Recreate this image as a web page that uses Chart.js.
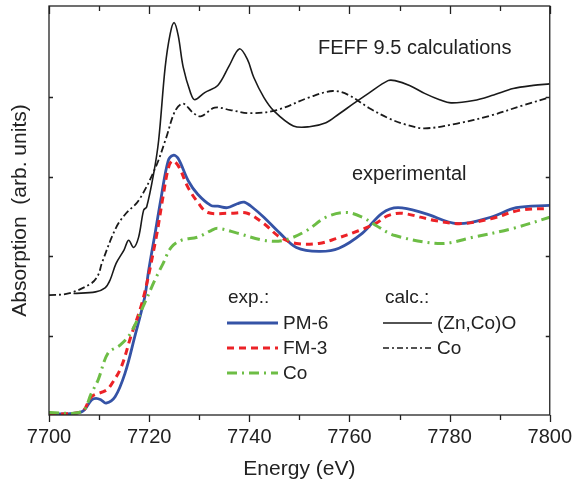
<!DOCTYPE html>
<html>
<head>
<meta charset="utf-8">
<script src="https://cdn.jsdelivr.net/npm/chart.js@4/dist/chart.umd.min.js"></script>
<style>
  html, body { margin: 0; padding: 0; background: #fff; }
  #wrap { width: 582px; height: 489px; }
</style>
</head>
<body>
<div id="wrap"><canvas id="xanes"></canvas></div>
<script>
// energies (eV) and absorption (arb. units, offset)
const calcZnCoE = [7704.9, 7709.3, 7711.2, 7712.2, 7713.4, 7715.0, 7715.9, 7716.9, 7717.9, 7718.9, 7719.5, 7720.9, 7721.9, 7723.2, 7724.2, 7725.0, 7725.8, 7726.8, 7728.3, 7729.1, 7731.1, 7733.7, 7736.0, 7738.0, 7739.6, 7740.9, 7742.9, 7744.9, 7748.8, 7752.0, 7755.3, 7757.9, 7760.8, 7763.8, 7767.7, 7769.1, 7772.0, 7775.0, 7778.0, 7780.3, 7784.8, 7788.8, 7792.7, 7796.7, 7800];
const calcZnCoY = [1.53, 1.55, 1.60, 1.70, 1.91, 2.08, 2.20, 2.11, 2.24, 2.58, 2.62, 3.04, 3.46, 4.38, 4.80, 4.94, 4.78, 4.38, 4.05, 3.97, 4.06, 4.15, 4.40, 4.61, 4.48, 4.25, 4.00, 3.83, 3.64, 3.63, 3.68, 3.79, 3.92, 4.05, 4.21, 4.21, 4.15, 4.05, 3.97, 3.93, 3.96, 4.03, 4.11, 4.15, 4.17];

const calcCoE = [7700.0, 7703.9, 7708.5, 7709.8, 7710.6, 7713.4, 7715.4, 7717.9, 7721.3, 7723.4, 7725.2, 7726.8, 7728.7, 7730.3, 7733.1, 7736.2, 7740.2, 7745.5, 7752.0, 7756.7, 7759.8, 7763.8, 7767.7, 7771.1, 7775.0, 7781.5, 7788.2, 7794.7, 7800];
const calcCoY = [1.51, 1.53, 1.66, 1.76, 1.92, 2.36, 2.54, 2.70, 3.12, 3.49, 3.83, 3.92, 3.81, 3.76, 3.87, 3.84, 3.80, 3.84, 4.00, 4.08, 4.03, 3.87, 3.74, 3.66, 3.61, 3.67, 3.77, 3.90, 4.00];

const pm6E = [7700, 7706.5, 7708.5, 7709.4, 7710.4, 7711.4, 7713.2, 7715.2, 7717.1, 7719.1, 7719.9, 7721.3, 7722.4, 7723.8, 7724.8, 7725.8, 7727.8, 7729.7, 7732.3, 7733.7, 7735.6, 7737.6, 7739.0, 7740.9, 7742.9, 7746.1, 7749.4, 7753.9, 7757.9, 7762.6, 7766.5, 7769.7, 7775.0, 7781.5, 7788.2, 7793.3, 7800];
const pm6Y = [0.01, 0.04, 0.19, 0.21, 0.19, 0.15, 0.23, 0.53, 0.98, 1.48, 1.82, 2.33, 2.74, 3.20, 3.27, 3.23, 2.95, 2.78, 2.64, 2.63, 2.61, 2.66, 2.68, 2.60, 2.49, 2.29, 2.11, 2.06, 2.10, 2.29, 2.54, 2.61, 2.54, 2.41, 2.49, 2.61, 2.64];

const fm3E = [7700, 7706.5, 7708.5, 7711.4, 7712.4, 7714.4, 7716.3, 7718.7, 7721.3, 7722.8, 7723.8, 7724.6, 7725.8, 7727.8, 7729.7, 7731.7, 7736.2, 7739.6, 7742.9, 7746.1, 7749.4, 7753.9, 7757.3, 7761.8, 7765.2, 7767.7, 7770.5, 7777.0, 7782.3, 7788.2, 7794.1, 7800];
const fm3Y = [0.01, 0.04, 0.23, 0.31, 0.38, 0.60, 0.98, 1.44, 2.20, 2.76, 3.10, 3.20, 3.14, 2.86, 2.68, 2.55, 2.54, 2.54, 2.41, 2.24, 2.16, 2.16, 2.22, 2.32, 2.41, 2.51, 2.54, 2.45, 2.41, 2.47, 2.58, 2.60];

const coExpE = [7700, 7706.5, 7708.5, 7709.8, 7711.8, 7714.2, 7716.3, 7719.1, 7721.3, 7722.8, 7724.4, 7726.4, 7729.7, 7732.3, 7733.7, 7737.6, 7742.9, 7746.9, 7751.4, 7755.3, 7759.3, 7762.6, 7765.2, 7769.1, 7778.3, 7784.8, 7792.7, 7800];
const coExpY = [0.03, 0.04, 0.28, 0.44, 0.78, 0.88, 1.03, 1.41, 1.72, 1.91, 2.11, 2.20, 2.24, 2.32, 2.35, 2.29, 2.20, 2.20, 2.32, 2.49, 2.55, 2.49, 2.39, 2.26, 2.16, 2.24, 2.35, 2.49];

const xTicks = [7700, 7720, 7740, 7760, 7780, 7800];

const FONT = "'Liberation Sans', Arial, Helvetica, sans-serif";
const BLACK = "#1a1a1a", BLUE = "#3553a6", RED = "#ec2227", GREEN = "#6dbd45";

const pts = (xs, ys) => xs.map((x, i) => ({ x: x, y: ys[i] }));

// frame, inward/outward ticks, annotations and the legend block
const framePlugin = {
  id: "frame",
  afterDraw(chart) {
    const { ctx, chartArea: a, scales: { x, y } } = chart;
    ctx.save();
    ctx.strokeStyle = "#222";
    ctx.lineWidth = 1.3;
    ctx.strokeRect(a.left, a.top, a.right - a.left, a.bottom - a.top);

    for (let e = 7700; e <= 7800; e += 10) {
      const px = Math.round(x.getPixelForValue(e)) + 0.5;
      const major = e % 20 === 0;
      ctx.beginPath();
      ctx.moveTo(px, a.bottom);
      ctx.lineTo(px, a.bottom + (major ? 7 : 5));
      ctx.moveTo(px, a.top);
      ctx.lineTo(px, a.top + (major ? 8 : 5));
      ctx.stroke();
    }
    for (let v = 1; v <= 4; v++) {
      const py = Math.round(y.getPixelForValue(v)) + 0.5;
      ctx.beginPath();
      ctx.moveTo(a.left, py);
      ctx.lineTo(a.left + 4, py);
      ctx.moveTo(a.right, py);
      ctx.lineTo(a.right - 4, py);
      ctx.stroke();
    }

    ctx.fillStyle = "#222";
    ctx.textBaseline = "middle";
    ctx.textAlign = "left";
    ctx.font = "20px " + FONT;
    ctx.fillText("FEFF 9.5 calculations", 318, 48);
    ctx.fillText("experimental", 352, 174);

    ctx.font = "19px " + FONT;
    ctx.fillText("exp.:", 228, 298);
    ctx.fillText("calc.:", 385, 298);

    const rows = [
      { x0: 227, x1: 278, y: 323, color: BLUE, w: 3, dash: [], label: "PM-6" },
      { x0: 227, x1: 278, y: 348, color: RED, w: 3, dash: [7, 5], label: "FM-3" },
      { x0: 227, x1: 278, y: 373, color: GREEN, w: 3, dash: [10, 5, 2, 5], label: "Co" },
      { x0: 383, x1: 432, y: 323, color: BLACK, w: 1.6, dash: [], label: "(Zn,Co)O" },
      { x0: 383, x1: 432, y: 348, color: BLACK, w: 1.6, dash: [6, 3, 2, 3], label: "Co" },
    ];
    rows.forEach(r => {
      ctx.beginPath();
      ctx.strokeStyle = r.color;
      ctx.lineWidth = r.w;
      ctx.setLineDash(r.dash);
      ctx.moveTo(r.x0, r.y);
      ctx.lineTo(r.x1, r.y);
      ctx.stroke();
      ctx.setLineDash([]);
      ctx.fillText(r.label, r.x1 + 5, r.y + 1);
    });
    ctx.restore();
  },
};

const line = (label, data, color, width, dash) => ({
  label: label,
  data: data,
  borderColor: color,
  borderWidth: width,
  borderDash: dash,
  pointRadius: 0,
  fill: false,
  tension: 0.35,
});

new Chart(document.getElementById("xanes"), {
  type: "line",
  plugins: [framePlugin],
  data: {
    datasets: [
      line("(Zn,Co)O calc", pts(calcZnCoE, calcZnCoY), BLACK, 1.6, []),
      line("Co calc", pts(calcCoE, calcCoY), BLACK, 1.8, [7, 3, 2, 3]),
      line("Co", pts(coExpE, coExpY), GREEN, 3, [10, 5, 2, 5]),
      line("FM-3", pts(fm3E, fm3Y), RED, 3, [7, 5]),
      line("PM-6", pts(pm6E, pm6Y), BLUE, 2.8, []),
    ],
  },
  options: {
    responsive: true,
    maintainAspectRatio: false,
    animation: false,
    layout: { padding: { top: 6, right: 25, left: 0, bottom: 0 } },
    plugins: { legend: { display: false }, tooltip: { enabled: false } },
    scales: {
      x: {
        type: "linear",
        min: 7700,
        max: 7800,
        afterFit: s => { s.height = 74; },
        afterBuildTicks: s => { s.ticks = xTicks.map(v => ({ value: v })); },
        grid: { display: false, drawTicks: false },
        border: { display: false },
        ticks: { color: "#222", padding: 10, font: { family: FONT, size: 20 }, maxRotation: 0, callback: v => v },
        title: { display: true, text: "Energy (eV)", color: "#222", padding: { top: 0, bottom: 7 }, font: { family: FONT, size: 21 } },
      },
      y: {
        min: 0,
        max: 5.15,
        afterFit: s => { s.width = 49; },
        grid: { display: false, drawTicks: false },
        border: { display: false },
        ticks: { display: false },
        title: { display: true, text: "Absorption  (arb. units)", color: "#222", padding: { top: 8, bottom: 0 }, font: { family: FONT, size: 21 } },
      },
    },
  },
});
</script>
</body>
</html>
